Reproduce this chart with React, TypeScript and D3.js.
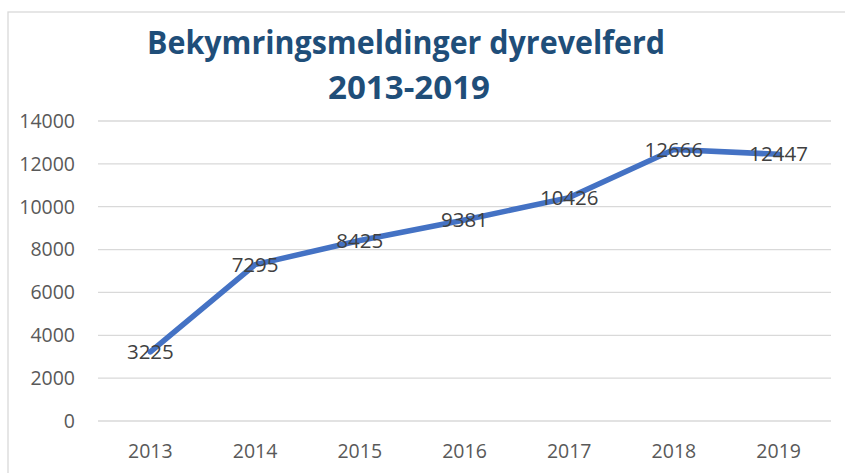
import React from "react";
import * as d3 from "d3";

const years = ["2013", "2014", "2015", "2016", "2017", "2018", "2019"];
const values = [3225, 7295, 8425, 9381, 10426, 12666, 12447];
const yTicks = [0, 2000, 4000, 6000, 8000, 10000, 12000, 14000];
const titleLines = ["Bekymringsmeldinger dyrevelferd", "2013-2019"];

const W = 845;
const H = 473;
const FONT = "'Open Sans', 'Noto Sans', sans-serif";

export default function App() {
  const x = d3.scaleBand<string>().domain(years).range([98, 831]);
  const y = d3.scaleLinear().domain([0, 14000]).range([421, 121]);
  const line = d3
    .line<number>()
    .x((_, i) => (x(years[i]) as number) + x.bandwidth() / 2)
    .y((d) => y(d));

  return (
    <svg
      width={W}
      height={H}
      style={{ position: "absolute", left: 0, top: 0, background: "#fff" }}
    >
      <rect x={8} y={12} width={900} height={600} fill="#fff" stroke="#d9d9d9" strokeWidth={1.3} />
      <text x={147} y={54} textLength={518} lengthAdjust="spacingAndGlyphs" fontFamily={FONT} fontWeight={700} fontSize={32} fill="#1F4E79">
        {titleLines[0]}
      </text>
      <text x={328} y={99} textLength={162} lengthAdjust="spacingAndGlyphs" fontFamily={FONT} fontWeight={700} fontSize={32} fill="#1F4E79">
        {titleLines[1]}
      </text>
      {yTicks.map((t) => (
        <g key={t}>
          <line x1={98} x2={831} y1={y(t)} y2={y(t)} stroke="#d9d9d9" strokeWidth={1.3} />
          <text x={75} y={y(t)} dy="0.35em" textAnchor="end" fontFamily={FONT} fontSize={19.5} fill="#595959">
            {t}
          </text>
        </g>
      ))}
      {years.map((yr) => (
        <text
          key={yr}
          x={(x(yr) as number) + x.bandwidth() / 2}
          y={451}
          dy="0.35em"
          textAnchor="middle"
          fontFamily={FONT}
          fontSize={19.5}
          fill="#595959"
        >
          {yr}
        </text>
      ))}
      <path d={line(values) || ""} fill="none" stroke="#4472C4" strokeWidth={5.5} strokeLinecap="round" strokeLinejoin="round" />
      {values.map((v, i) => (
        <text
          key={i}
          x={(x(years[i]) as number) + x.bandwidth() / 2}
          y={y(v)}
          dy="0.35em"
          textAnchor="middle"
          fontFamily={FONT}
          fontSize={20.5}
          fill="#404040"
        >
          {v}
        </text>
      ))}
    </svg>
  );
}
